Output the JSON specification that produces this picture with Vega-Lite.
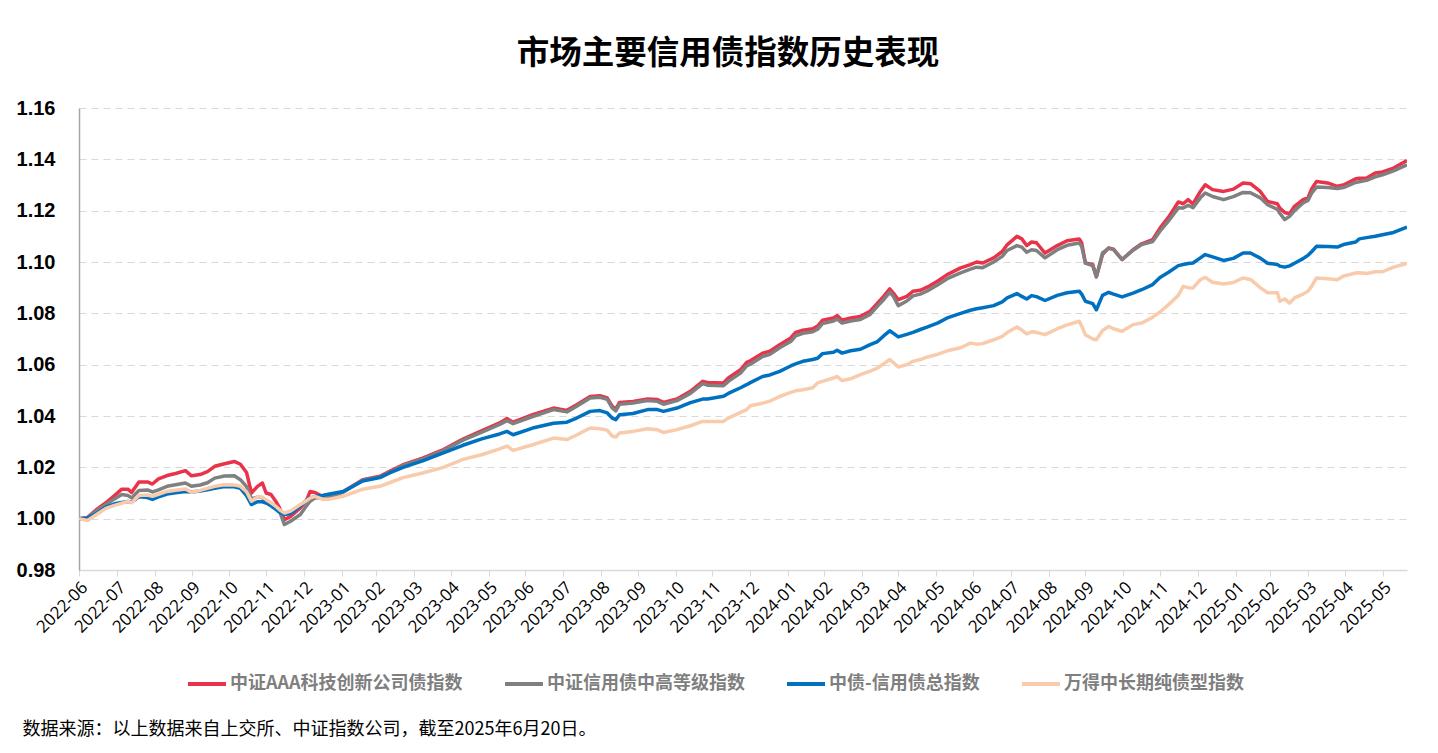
{
"$schema": "https://vega.github.io/schema/vega-lite/v6.json",
"width": 1328, "height": 462,
"autosize": {"type": "none"},
"padding": {"left": 79, "top": 108, "right": 31, "bottom": 183},
"background": "white",
"title": {"text": "市场主要信用债指数历史表现", "font": "Noto Sans CJK SC", "fontSize": 32.5, "fontWeight": "bold", "color": "#000000", "anchor": "middle", "offset": 28, "dx": -15},
"config": {"view": {"stroke": null}},
"data": {"values": [
{"d":"2022-06-30","R":1.0,"G":1.0,"B":1.0,"P":1.0},
{"d":"2022-07-07","R":1.0005,"G":1.0003,"B":1.0002,"P":0.9993},
{"d":"2022-07-15","R":1.0038,"G":1.0033,"B":1.0022,"P":1.0018},
{"d":"2022-07-22","R":1.0062,"G":1.0055,"B":1.0045,"P":1.004},
{"d":"2022-07-29","R":1.009,"G":1.0077,"B":1.0058,"P":1.0052},
{"d":"2022-08-04","R":1.0115,"G":1.0094,"B":1.0063,"P":1.006},
{"d":"2022-08-09","R":1.0115,"G":1.009,"B":1.0067,"P":1.0067},
{"d":"2022-08-12","R":1.0102,"G":1.0081,"B":1.0065,"P":1.0062},
{"d":"2022-08-18","R":1.0143,"G":1.011,"B":1.0085,"P":1.009},
{"d":"2022-08-25","R":1.0143,"G":1.0112,"B":1.0082,"P":1.0092},
{"d":"2022-08-29","R":1.0135,"G":1.0104,"B":1.0075,"P":1.0087},
{"d":"2022-09-03","R":1.0155,"G":1.0112,"B":1.0085,"P":1.0095},
{"d":"2022-09-10","R":1.0168,"G":1.0126,"B":1.0096,"P":1.0106},
{"d":"2022-09-17","R":1.0176,"G":1.0132,"B":1.0101,"P":1.0111},
{"d":"2022-09-25","R":1.0187,"G":1.0139,"B":1.0106,"P":1.0116},
{"d":"2022-09-30","R":1.0167,"G":1.0126,"B":1.0104,"P":1.0103},
{"d":"2022-10-07","R":1.0172,"G":1.0131,"B":1.0108,"P":1.011},
{"d":"2022-10-13","R":1.0183,"G":1.014,"B":1.0113,"P":1.0118},
{"d":"2022-10-19","R":1.0204,"G":1.0158,"B":1.0118,"P":1.0126},
{"d":"2022-10-27","R":1.0214,"G":1.0166,"B":1.0125,"P":1.0132},
{"d":"2022-11-04","R":1.0223,"G":1.0167,"B":1.0124,"P":1.0131},
{"d":"2022-11-09","R":1.0212,"G":1.0152,"B":1.0118,"P":1.0126},
{"d":"2022-11-14","R":1.018,"G":1.0125,"B":1.009,"P":1.0105},
{"d":"2022-11-18","R":1.01,"G":1.0077,"B":1.0055,"P":1.0068},
{"d":"2022-11-23","R":1.0126,"G":1.0084,"B":1.0066,"P":1.0085},
{"d":"2022-11-27","R":1.0139,"G":1.0082,"B":1.0066,"P":1.0084},
{"d":"2022-11-30","R":1.01,"G":1.0067,"B":1.0061,"P":1.0074},
{"d":"2022-12-04","R":1.0094,"G":1.0058,"B":1.005,"P":1.0062},
{"d":"2022-12-08","R":1.0067,"G":1.0045,"B":1.0036,"P":1.0048},
{"d":"2022-12-11","R":1.0042,"G":1.0029,"B":1.0025,"P":1.0035},
{"d":"2022-12-15","R":0.9996,"G":0.9977,"B":1.0016,"P":1.0022},
{"d":"2022-12-20","R":1.0009,"G":0.999,"B":1.002,"P":1.003},
{"d":"2022-12-28","R":1.0042,"G":1.0016,"B":1.005,"P":1.0055},
{"d":"2023-01-02","R":1.007,"G":1.005,"B":1.0072,"P":1.007},
{"d":"2023-01-05","R":1.0106,"G":1.0068,"B":1.008,"P":1.008},
{"d":"2023-01-09","R":1.0102,"G":1.0081,"B":1.0087,"P":1.0087},
{"d":"2023-01-15","R":1.0087,"G":1.0082,"B":1.009,"P":1.0076},
{"d":"2023-01-21","R":1.0085,"G":1.0082,"B":1.0096,"P":1.0076},
{"d":"2023-02-01","R":1.0105,"G":1.0103,"B":1.0106,"P":1.0087},
{"d":"2023-02-17","R":1.0152,"G":1.015,"B":1.0147,"P":1.0115},
{"d":"2023-03-03","R":1.0165,"G":1.0162,"B":1.016,"P":1.0126},
{"d":"2023-03-11","R":1.0184,"G":1.018,"B":1.0178,"P":1.014},
{"d":"2023-03-22","R":1.021,"G":1.0207,"B":1.02,"P":1.016},
{"d":"2023-04-07","R":1.0236,"G":1.0232,"B":1.0225,"P":1.0178},
{"d":"2023-04-24","R":1.0269,"G":1.0265,"B":1.0256,"P":1.02},
{"d":"2023-05-10","R":1.031,"G":1.0306,"B":1.0286,"P":1.0231},
{"d":"2023-05-26","R":1.0344,"G":1.0338,"B":1.0312,"P":1.025},
{"d":"2023-06-09","R":1.0373,"G":1.0367,"B":1.033,"P":1.0272},
{"d":"2023-06-15","R":1.039,"G":1.0382,"B":1.034,"P":1.0283},
{"d":"2023-06-20","R":1.0376,"G":1.037,"B":1.0327,"P":1.0266},
{"d":"2023-07-06","R":1.0405,"G":1.0398,"B":1.0353,"P":1.0288},
{"d":"2023-07-23","R":1.0431,"G":1.0425,"B":1.0372,"P":1.0314},
{"d":"2023-08-03","R":1.0422,"G":1.0416,"B":1.0376,"P":1.0308},
{"d":"2023-08-11","R":1.0444,"G":1.0438,"B":1.0392,"P":1.0326},
{"d":"2023-08-22","R":1.0476,"G":1.047,"B":1.0418,"P":1.0353},
{"d":"2023-08-30","R":1.0479,"G":1.0473,"B":1.0421,"P":1.035},
{"d":"2023-09-05","R":1.047,"G":1.0465,"B":1.0412,"P":1.0345},
{"d":"2023-09-09","R":1.0438,"G":1.0432,"B":1.0392,"P":1.0322},
{"d":"2023-09-12","R":1.0427,"G":1.042,"B":1.0386,"P":1.0318},
{"d":"2023-09-15","R":1.0453,"G":1.0446,"B":1.0405,"P":1.0334},
{"d":"2023-09-26","R":1.0457,"G":1.0451,"B":1.041,"P":1.034},
{"d":"2023-10-08","R":1.0466,"G":1.046,"B":1.0425,"P":1.035},
{"d":"2023-10-16","R":1.0464,"G":1.0457,"B":1.0425,"P":1.0346},
{"d":"2023-10-21","R":1.0453,"G":1.0446,"B":1.0418,"P":1.0336},
{"d":"2023-11-01","R":1.0466,"G":1.046,"B":1.0431,"P":1.0347},
{"d":"2023-11-12","R":1.0496,"G":1.0488,"B":1.0452,"P":1.0362},
{"d":"2023-11-22","R":1.0535,"G":1.0526,"B":1.0466,"P":1.0379},
{"d":"2023-11-26","R":1.0531,"G":1.052,"B":1.0466,"P":1.0379},
{"d":"2023-12-09","R":1.0529,"G":1.0518,"B":1.0477,"P":1.0379},
{"d":"2023-12-13","R":1.0548,"G":1.0535,"B":1.0488,"P":1.0392},
{"d":"2023-12-23","R":1.058,"G":1.0567,"B":1.051,"P":1.0414},
{"d":"2023-12-28","R":1.0609,"G":1.0595,"B":1.0522,"P":1.0425},
{"d":"2023-12-31","R":1.0615,"G":1.0602,"B":1.053,"P":1.044},
{"d":"2024-01-10","R":1.0645,"G":1.0632,"B":1.0554,"P":1.045},
{"d":"2024-01-16","R":1.0652,"G":1.064,"B":1.056,"P":1.0458},
{"d":"2024-01-24","R":1.0678,"G":1.0666,"B":1.0574,"P":1.0476},
{"d":"2024-02-02","R":1.0704,"G":1.069,"B":1.0595,"P":1.0492},
{"d":"2024-02-06","R":1.0726,"G":1.0712,"B":1.0603,"P":1.0498},
{"d":"2024-02-12","R":1.0734,"G":1.0722,"B":1.0613,"P":1.0502},
{"d":"2024-02-20","R":1.074,"G":1.0728,"B":1.062,"P":1.051},
{"d":"2024-02-24","R":1.075,"G":1.0738,"B":1.0625,"P":1.0529},
{"d":"2024-02-28","R":1.0773,"G":1.076,"B":1.0643,"P":1.0535},
{"d":"2024-03-08","R":1.0782,"G":1.077,"B":1.0648,"P":1.0548},
{"d":"2024-03-11","R":1.0791,"G":1.0778,"B":1.0656,"P":1.0554},
{"d":"2024-03-15","R":1.0773,"G":1.0762,"B":1.0645,"P":1.0538},
{"d":"2024-03-22","R":1.0782,"G":1.077,"B":1.0654,"P":1.0545},
{"d":"2024-03-30","R":1.0788,"G":1.0776,"B":1.066,"P":1.0561},
{"d":"2024-04-07","R":1.0808,"G":1.0796,"B":1.0678,"P":1.0575},
{"d":"2024-04-13","R":1.084,"G":1.0828,"B":1.069,"P":1.0587},
{"d":"2024-04-18","R":1.0866,"G":1.0853,"B":1.0712,"P":1.0603},
{"d":"2024-04-23","R":1.0895,"G":1.0882,"B":1.0732,"P":1.062},
{"d":"2024-04-26","R":1.0879,"G":1.0866,"B":1.0722,"P":1.0608},
{"d":"2024-04-30","R":1.0853,"G":1.083,"B":1.0708,"P":1.0591},
{"d":"2024-05-07","R":1.0866,"G":1.0848,"B":1.0718,"P":1.06},
{"d":"2024-05-12","R":1.0886,"G":1.0868,"B":1.0726,"P":1.0613},
{"d":"2024-05-18","R":1.089,"G":1.0875,"B":1.0737,"P":1.062},
{"d":"2024-05-24","R":1.0903,"G":1.0888,"B":1.0747,"P":1.063},
{"d":"2024-06-01","R":1.0925,"G":1.091,"B":1.0762,"P":1.064},
{"d":"2024-06-09","R":1.0951,"G":1.0935,"B":1.0782,"P":1.0654},
{"d":"2024-06-20","R":1.0977,"G":1.0958,"B":1.08,"P":1.0666},
{"d":"2024-06-28","R":1.099,"G":1.0972,"B":1.0812,"P":1.0684},
{"d":"2024-07-03","R":1.1,"G":1.098,"B":1.0818,"P":1.068},
{"d":"2024-07-08","R":1.0996,"G":1.0978,"B":1.0822,"P":1.0682},
{"d":"2024-07-17","R":1.1016,"G":1.1,"B":1.083,"P":1.0697},
{"d":"2024-07-24","R":1.1041,"G":1.1022,"B":1.0845,"P":1.071},
{"d":"2024-07-28","R":1.1067,"G":1.1045,"B":1.086,"P":1.0725},
{"d":"2024-08-05","R":1.11,"G":1.1064,"B":1.0877,"P":1.0747},
{"d":"2024-08-09","R":1.109,"G":1.1058,"B":1.0866,"P":1.0735},
{"d":"2024-08-13","R":1.1064,"G":1.1038,"B":1.0856,"P":1.072},
{"d":"2024-08-17","R":1.1078,"G":1.1048,"B":1.0869,"P":1.0728},
{"d":"2024-08-21","R":1.1075,"G":1.1045,"B":1.0865,"P":1.0726},
{"d":"2024-08-28","R":1.1035,"G":1.1016,"B":1.085,"P":1.0717},
{"d":"2024-09-07","R":1.1064,"G":1.1048,"B":1.087,"P":1.074},
{"d":"2024-09-15","R":1.1083,"G":1.1065,"B":1.088,"P":1.0755},
{"d":"2024-09-25","R":1.109,"G":1.1074,"B":1.0886,"P":1.0769},
{"d":"2024-09-27","R":1.1074,"G":1.106,"B":1.0875,"P":1.075},
{"d":"2024-09-30","R":1.0996,"G":1.0996,"B":1.0847,"P":1.0717},
{"d":"2024-10-06","R":1.099,"G":1.0986,"B":1.0838,"P":1.07},
{"d":"2024-10-09","R":1.0942,"G":1.0943,"B":1.0814,"P":1.0697},
{"d":"2024-10-14","R":1.1029,"G":1.1035,"B":1.087,"P":1.0733},
{"d":"2024-10-19","R":1.1055,"G":1.1053,"B":1.0882,"P":1.0749},
{"d":"2024-10-23","R":1.105,"G":1.1048,"B":1.0875,"P":1.074},
{"d":"2024-10-30","R":1.1009,"G":1.101,"B":1.0864,"P":1.073},
{"d":"2024-11-08","R":1.1048,"G":1.1046,"B":1.0879,"P":1.0756},
{"d":"2024-11-15","R":1.1071,"G":1.1068,"B":1.0892,"P":1.0762},
{"d":"2024-11-24","R":1.1087,"G":1.108,"B":1.0912,"P":1.0785},
{"d":"2024-11-30","R":1.1132,"G":1.112,"B":1.094,"P":1.0805},
{"d":"2024-12-07","R":1.1175,"G":1.116,"B":1.096,"P":1.0834},
{"d":"2024-12-15","R":1.1234,"G":1.1211,"B":1.0986,"P":1.087},
{"d":"2024-12-19","R":1.1227,"G":1.121,"B":1.099,"P":1.0905},
{"d":"2024-12-23","R":1.1243,"G":1.1221,"B":1.0994,"P":1.09},
{"d":"2024-12-27","R":1.1226,"G":1.1212,"B":1.0996,"P":1.0899},
{"d":"2025-01-02","R":1.1275,"G":1.125,"B":1.1016,"P":1.0931},
{"d":"2025-01-06","R":1.1301,"G":1.1269,"B":1.1029,"P":1.094},
{"d":"2025-01-12","R":1.1282,"G":1.1255,"B":1.102,"P":1.0921},
{"d":"2025-01-21","R":1.1275,"G":1.1243,"B":1.1006,"P":1.0914},
{"d":"2025-01-29","R":1.1284,"G":1.1255,"B":1.1014,"P":1.092},
{"d":"2025-02-06","R":1.1308,"G":1.1271,"B":1.1035,"P":1.0938},
{"d":"2025-02-12","R":1.1305,"G":1.127,"B":1.1035,"P":1.0932},
{"d":"2025-02-20","R":1.1275,"G":1.125,"B":1.1015,"P":1.09},
{"d":"2025-02-26","R":1.1236,"G":1.1223,"B":1.0995,"P":1.088},
{"d":"2025-03-06","R":1.1227,"G":1.1205,"B":1.099,"P":1.088},
{"d":"2025-03-08","R":1.121,"G":1.119,"B":1.0984,"P":1.0847},
{"d":"2025-03-12","R":1.1193,"G":1.1165,"B":1.098,"P":1.0856},
{"d":"2025-03-16","R":1.1188,"G":1.1178,"B":1.0985,"P":1.084},
{"d":"2025-03-20","R":1.1217,"G":1.12,"B":1.0995,"P":1.086},
{"d":"2025-03-27","R":1.1243,"G":1.123,"B":1.1013,"P":1.0875},
{"d":"2025-03-31","R":1.125,"G":1.124,"B":1.1026,"P":1.0886},
{"d":"2025-04-03","R":1.1285,"G":1.1268,"B":1.104,"P":1.0905},
{"d":"2025-04-07","R":1.1314,"G":1.1292,"B":1.1061,"P":1.0938},
{"d":"2025-04-16","R":1.1308,"G":1.129,"B":1.106,"P":1.0935},
{"d":"2025-04-24","R":1.1295,"G":1.1286,"B":1.1058,"P":1.0931},
{"d":"2025-04-29","R":1.13,"G":1.129,"B":1.1068,"P":1.0945},
{"d":"2025-05-09","R":1.1324,"G":1.131,"B":1.1078,"P":1.0957},
{"d":"2025-05-12","R":1.1326,"G":1.1313,"B":1.109,"P":1.0958},
{"d":"2025-05-18","R":1.1327,"G":1.1318,"B":1.1095,"P":1.0955},
{"d":"2025-05-25","R":1.1347,"G":1.1332,"B":1.11,"P":1.0962},
{"d":"2025-05-31","R":1.1351,"G":1.134,"B":1.1106,"P":1.0962},
{"d":"2025-06-09","R":1.1366,"G":1.1355,"B":1.1115,"P":1.098},
{"d":"2025-06-20","R":1.1395,"G":1.1379,"B":1.1136,"P":1.0994}
]},
"transform": [{"fold": ["R", "G", "B", "P"], "as": ["s", "v"]}],
"mark": {"type": "line", "strokeWidth": 3.5, "strokeJoin": "round", "strokeCap": "butt", "clip": true},
"encoding": {
  "x": {"field": "d", "type": "temporal",
    "scale": {"type": "utc", "domain": [{"year": 2022, "month": 6, "date": 30, "utc": true}, {"year": 2025, "month": 6, "date": 20, "utc": true}], "nice": false},
    "axis": {
      "values": [
        {"year": 2022, "month": 6, "date": 30, "utc": true},
        {"year": 2022, "month": 7, "date": 31, "utc": true},
        {"year": 2022, "month": 8, "date": 31, "utc": true},
        {"year": 2022, "month": 9, "date": 30, "utc": true},
        {"year": 2022, "month": 10, "date": 31, "utc": true},
        {"year": 2022, "month": 11, "date": 30, "utc": true},
        {"year": 2022, "month": 12, "date": 31, "utc": true},
        {"year": 2023, "month": 1, "date": 31, "utc": true},
        {"year": 2023, "month": 2, "date": 28, "utc": true},
        {"year": 2023, "month": 3, "date": 31, "utc": true},
        {"year": 2023, "month": 4, "date": 30, "utc": true},
        {"year": 2023, "month": 5, "date": 31, "utc": true},
        {"year": 2023, "month": 6, "date": 30, "utc": true},
        {"year": 2023, "month": 7, "date": 31, "utc": true},
        {"year": 2023, "month": 8, "date": 31, "utc": true},
        {"year": 2023, "month": 9, "date": 30, "utc": true},
        {"year": 2023, "month": 10, "date": 31, "utc": true},
        {"year": 2023, "month": 11, "date": 30, "utc": true},
        {"year": 2023, "month": 12, "date": 31, "utc": true},
        {"year": 2024, "month": 1, "date": 31, "utc": true},
        {"year": 2024, "month": 2, "date": 29, "utc": true},
        {"year": 2024, "month": 3, "date": 31, "utc": true},
        {"year": 2024, "month": 4, "date": 30, "utc": true},
        {"year": 2024, "month": 5, "date": 31, "utc": true},
        {"year": 2024, "month": 6, "date": 30, "utc": true},
        {"year": 2024, "month": 7, "date": 31, "utc": true},
        {"year": 2024, "month": 8, "date": 31, "utc": true},
        {"year": 2024, "month": 9, "date": 30, "utc": true},
        {"year": 2024, "month": 10, "date": 31, "utc": true},
        {"year": 2024, "month": 11, "date": 30, "utc": true},
        {"year": 2024, "month": 12, "date": 31, "utc": true},
        {"year": 2025, "month": 1, "date": 31, "utc": true},
        {"year": 2025, "month": 2, "date": 28, "utc": true},
        {"year": 2025, "month": 3, "date": 31, "utc": true},
        {"year": 2025, "month": 4, "date": 30, "utc": true},
        {"year": 2025, "month": 5, "date": 31, "utc": true}
      ],
      "format": "%Y-%m", "labelAngle": -45, "labelFont": "Open Sans", "labelFontSize": 17, "labelColor": "#000000",
      "labelPadding": 3, "labelOverlap": false, "labelFlush": false,
      "tickColor": "#D9D9D9", "tickSize": 6, "domainColor": "#D9D9D9", "domainWidth": 1.5, "grid": false,
      "title": "数据来源：以上数据来自上交所、中证指数公司，截至2025年6月20日。",
      "titleFont": "Noto Sans CJK SC", "titleFontSize": 18, "titleFontWeight": "normal", "titleColor": "#000000",
      "titleAnchor": "start", "titleAlign": "left", "titleBaseline": "alphabetic", "titleX": -57, "titleY": 164
    }
  },
  "y": {"field": "v", "type": "quantitative",
    "scale": {"domain": [0.98, 1.16], "nice": false, "zero": false},
    "axis": {
      "values": [0.98, 1.0, 1.02, 1.04, 1.06, 1.08, 1.1, 1.12, 1.14, 1.16],
      "format": ".2f", "labelFont": "Liberation Sans Narrow, Liberation Sans", "labelFontSize": 20, "labelFontWeight": "bold", "labelColor": "#000000",
      "labelPadding": 24, "tickSize": 0, "domainColor": "#A6A6A6", "domainWidth": 1.5,
      "grid": true, "gridColor": "#D9D9D9", "gridDash": [7, 5], "gridWidth": 1.2, "title": null
    }
  },
  "color": {"field": "s", "type": "nominal",
    "scale": {"domain": ["R", "G", "B", "P"], "range": ["#E8334A", "#808080", "#0070C0", "#F8CBAD"]},
    "legend": {
      "orient": "none", "legendX": 107, "legendY": 555, "direction": "horizontal", "title": null,
      "labelExpr": "datum.label == 'R' ? '中证AAA科技创新公司债指数' : datum.label == 'G' ? '中证信用债中高等级指数' : datum.label == 'B' ? '中债-信用债总指数' : '万得中长期纯债型指数'",
      "labelFont": "Noto Sans CJK SC", "labelFontSize": 18, "labelFontWeight": "bold", "labelColor": "#7F7F7F", "labelLimit": 500,
      "symbolType": "stroke", "symbolSize": 1444, "symbolStrokeWidth": 4, "labelOffset": 2, "columnPadding": 34, "padding": 0
    }
  }
}
}
